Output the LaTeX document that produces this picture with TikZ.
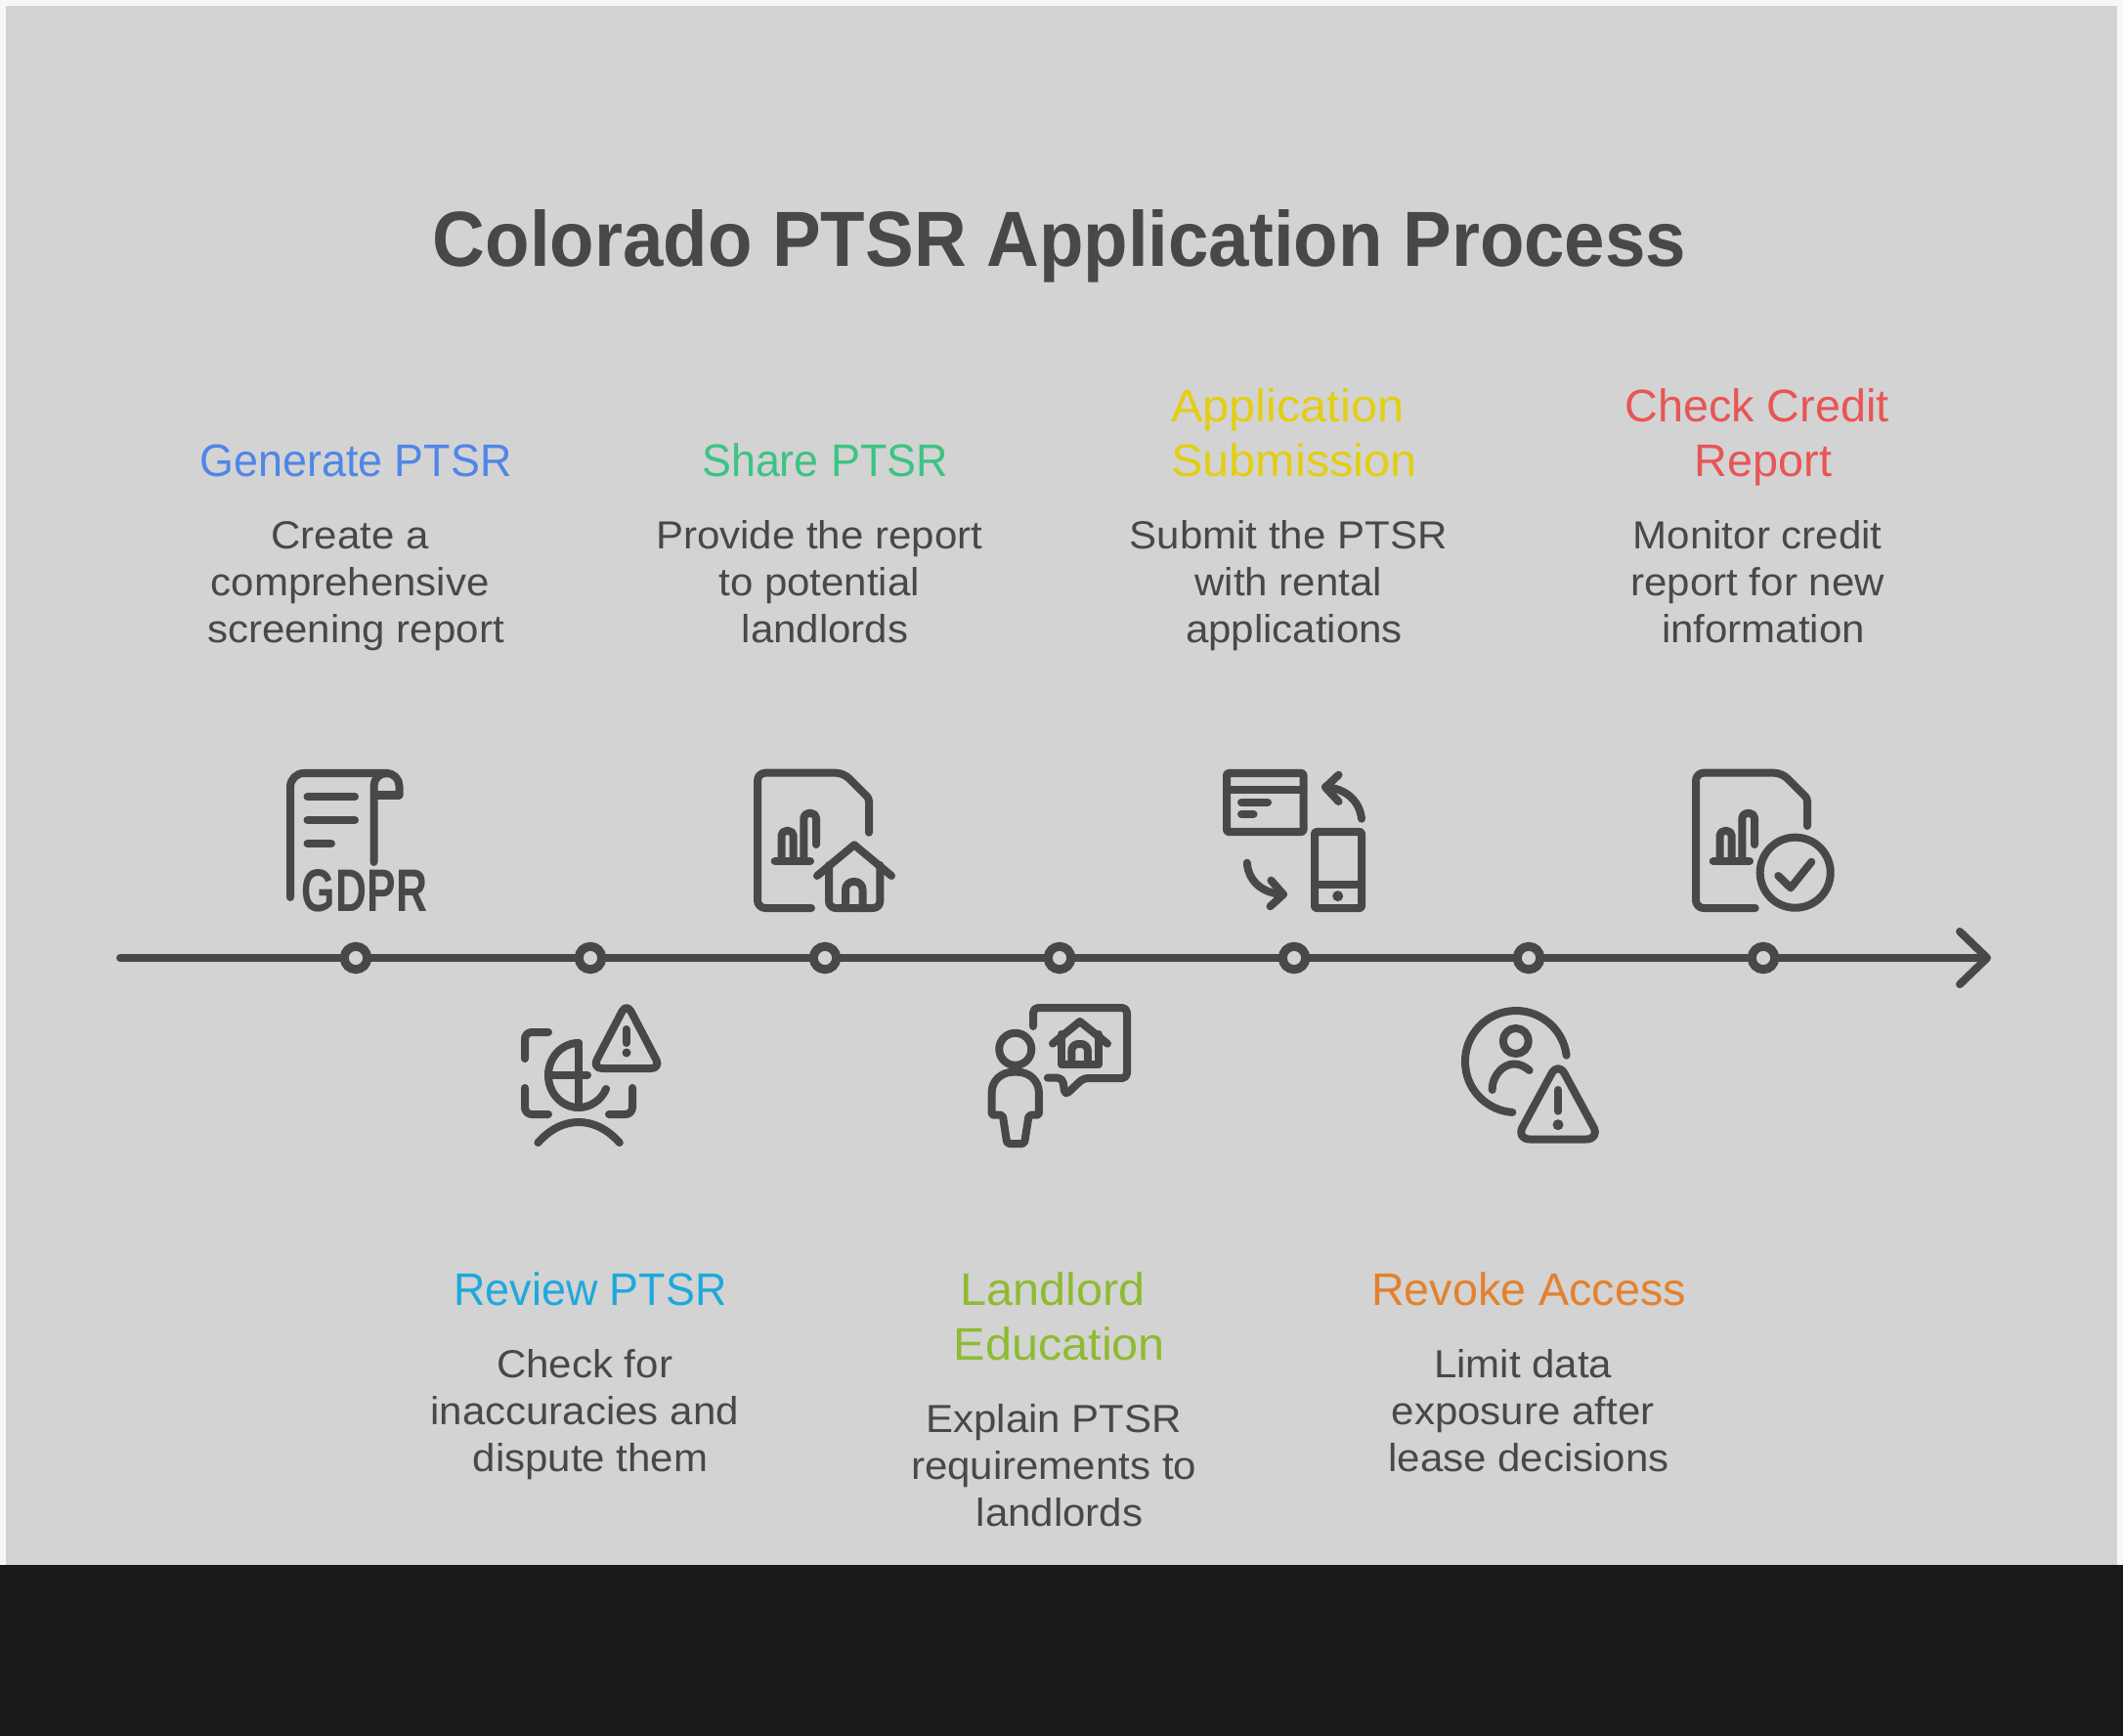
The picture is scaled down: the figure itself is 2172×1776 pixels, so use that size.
\documentclass[tikz,border=0pt]{standalone}
\usepackage{fontspec}
\setmainfont{Liberation Sans}
\newfontfamily\gdprfont[FakeStretch=0.72]{Liberation Sans}
\newfontfamily\titlefont[FakeStretch=0.93]{Liberation Sans}
\newfontfamily\headfont[FakeStretch=0.96]{Liberation Sans}
\newfontfamily\headwide[FakeStretch=1.04]{Liberation Sans}
\newfontfamily\headmid[FakeStretch=1.0]{Liberation Sans}
\newfontfamily\bodyfont[FakeStretch=1.05]{Liberation Sans}
\usetikzlibrary{arrows.meta}
\definecolor{bgpanel}{HTML}{D3D3D3}
\definecolor{bgpage}{HTML}{F6F8F7}
\definecolor{bgblack}{HTML}{1A1A1A}
\definecolor{ink}{HTML}{484848}
\definecolor{cblue}{HTML}{4F86E8}
\definecolor{ccyan}{HTML}{1EA9DC}
\definecolor{cgreen}{HTML}{3BC483}
\definecolor{clime}{HTML}{8FBA33}
\definecolor{cyellow}{HTML}{E3CE12}
\definecolor{corange}{HTML}{E3812E}
\definecolor{cred}{HTML}{E85555}
\newcommand{\tsp}{~\mbox{}}
\tikzset{
  x=0.01cm,y=-0.01cm,
  txt/.style={inner sep=0,outer sep=0,align=center},
  ttl/.style={inner sep=0,outer sep=0,anchor=base,text=ink,font=\fontsize{22.76}{27}\selectfont\titlefont\bfseries},
  hdtop/.style={txt,anchor=south,text=#1,font=\fontsize{13.28}{15.93}\selectfont\headfont},
  hdbot/.style={txt,anchor=north,text=#1,font=\fontsize{13.28}{15.93}\selectfont\headfont},
  wide/.style={font=\fontsize{13.28}{15.93}\selectfont\headwide},
  mid/.style={font=\fontsize{13.28}{15.93}\selectfont\headmid},
  bd/.style={txt,anchor=north,text=ink,font=\fontsize{11.38}{13.66}\selectfont\bodyfont},
  marker/.style={circle,draw=ink,fill=bgpanel,line width=0.09cm,minimum size=0.235cm,inner sep=0,outer sep=0},
  axis/.style={draw=ink,line width=0.08cm,line cap=round},
  ico/.style={draw=ink,line width=0.08cm,line cap=round,line join=round},
  dotf/.style={fill=ink,draw=none},
}
\begin{document}
\begin{tikzpicture}
\useasboundingbox (0,0) rectangle (2172,1776);
\fill[bgpage] (0,0) rectangle (2172,1601);
\fill[bgpanel] (6,6) rectangle (2166,1601);
\fill[bgblack] (0,1601) rectangle (2172,1776);

\node[ttl] (title) at (1084,272.3) {Colorado PTSR Application Process};

% timeline
\coordinate (tstart) at (123,980);
\coordinate (tend) at (2037,980);
\draw[axis,-{Straight Barb[length=0.28cm,width=0.54cm,round]}] (tstart) -- (tend);
\node[marker] (m1) at (364,980) {};
\node[marker] (m2) at (604,980) {};
\node[marker] (m3) at (844,980) {};
\node[marker] (m4) at (1084,980) {};
\node[marker] (m5) at (1324,980) {};
\node[marker] (m6) at (1564,980) {};
\node[marker] (m7) at (1804,980) {};

% upper labels
\node[hdtop=cblue] (h1) at (364,504.1) {Generate PTSR\strut};
\node[bd] (b1) at (364,527.4) {\strut Create a\tsp\\comprehensive\tsp\\screening report};
\node[hdtop=cgreen] (h3) at (844,504.1) {Share PTSR\strut};
\node[bd] (b3) at (844,527.4) {\strut Provide the report\tsp\\to potential\tsp\\landlords};
\node[hdtop=cyellow,wide] (h5) at (1324,504.1) {Application\tsp\\Submission\strut};
\node[bd] (b5) at (1324,527.4) {\strut Submit the PTSR\tsp\\with rental\tsp\\applications};
\node[hdtop=cred,mid] (h7) at (1804,504.1) {Check Credit\tsp\\Report\strut};
\node[bd] (b7) at (1804,527.4) {\strut Monitor credit\tsp\\report for new\tsp\\information};

% lower labels
\node[hdbot=ccyan] (h2) at (604,1296.5) {\strut Review PTSR};
\node[bd] (b2) at (604,1375.4) {\strut Check for\tsp\\inaccuracies and\tsp\\dispute them};
\node[hdbot=clime,wide] (h4) at (1084,1296.5) {\strut Landlord\tsp\\Education};
\node[bd] (b4) at (1084,1431.7) {\strut Explain PTSR\tsp\\requirements to\tsp\\landlords};
\node[hdbot=corange,mid] (h6) at (1564,1296.5) {\strut Revoke Access};
\node[bd] (b6) at (1564,1375.4) {\strut Limit data\tsp\\exposure after\tsp\\lease decisions};

% icon 1: scroll with GDPR
\draw[ico,rounded corners=0.14cm] (297,918) -- (297,791) -- (397,791);
\draw[ico,rounded corners=0.13cm] (382.5,882) -- (382.5,791) -- (408.5,791) -- (408.5,813.5);
\draw[ico] (408.5,813.5) -- (383,813.5);
\draw[ico] (314.5,815) -- (363,815);
\draw[ico] (314.5,839) -- (363,839);
\draw[ico] (314.5,863) -- (339,863);
\node[inner sep=0,anchor=base,text=ink,font=\fontsize{17.5}{20}\selectfont\gdprfont\bfseries] (gdpr) at (373,932.7) {GDPR};

% icon 3: file with house
\draw[ico,rounded corners=0.08cm] (830,929) -- (775,929) -- (775,790.7) -- (863,790.7) [rounded corners=0.03cm] -- (889,816.7) -- (889,851.7);
\draw[ico] (792.7,881) -- (829,881);
\draw[ico,rounded corners=0.05cm] (799.5,881) -- (799.5,850) -- (811.7,850) -- (811.7,881);
\draw[ico,rounded corners=0.05cm] (822.3,881) -- (822.3,832) -- (835,832) -- (835,864);
\draw[ico] (836,896) -- (874,864.3) -- (912,896);
\draw[ico,rounded corners=0.07cm] (848,885) -- (848,929) -- (900.3,929) -- (900.3,885);
\draw[ico,rounded corners=0.08cm] (865,929) -- (865,902) -- (882.5,902) -- (882.5,929);

% icon 2: face scan with warning
\draw[ico,rounded corners=0.07cm] (537,1083) -- (537,1056) -- (561,1056);
\draw[ico,rounded corners=0.07cm] (537,1113) -- (537,1140) -- (561,1140);
\draw[ico,rounded corners=0.07cm] (647,1113) -- (647,1140) -- (623,1140);
\draw[ico] (592,1067) arc[start angle=90,end angle=335,x radius=0.31cm,y radius=0.33cm];
\draw[ico] (592,1067) -- (592,1133);
\draw[ico] (561,1100) -- (601,1100);
\draw[ico,rounded corners=0.1cm] (641,1026) -- (606,1093) -- (676,1093) -- cycle;
\draw[ico] (640.5,1053) -- (640.5,1067);
\fill[dotf] (641,1077) circle[radius=0.045cm];
\draw[ico] (550.4,1169) .. controls (575,1141) and (609,1141) .. (633.8,1169);

% icon 5: window, phone, arrows
\draw[ico,rounded corners=0.02cm] (1255,791) rectangle (1333.5,851);
\draw[ico] (1255,808.3) -- (1333.5,808.3);
\draw[ico] (1270,820.7) -- (1297,820.7);
\draw[ico] (1270,832.7) -- (1282.5,832.7);
\draw[ico,rounded corners=0.02cm] (1345,851) rectangle (1393,929);
\draw[ico] (1345,905) -- (1393,905);
\fill[dotf] (1368.7,916.7) circle[radius=0.055cm];
\draw[ico] (1393,837.7) .. controls (1391,820) and (1378,807) .. (1356,805);
\draw[ico] (1369.5,792.7) -- (1356,805.5) -- (1369.5,820);
\draw[ico] (1275.8,882.7) .. controls (1277,900) and (1290,914) .. (1312.9,915);
\draw[ico] (1300.4,900.7) -- (1313,915) -- (1299.5,927.3);

% icon 4: person with speech bubble
\draw[ico] (1038.75,1073.3) circle[radius=0.165cm];
\draw[ico,rounded corners=0.02cm] (1014.6,1140.7) -- (1014.6,1120) .. controls (1014.6,1105) and (1025,1096.7) .. (1038.75,1096.7) .. controls (1052.5,1096.7) and (1062.9,1105) .. (1062.9,1120) -- (1062.9,1140.7) -- (1052.6,1140.7) -- (1048,1170) -- (1030.3,1170) -- (1025.8,1140.7) -- cycle;
\draw[ico,rounded corners=0.05cm] (1057,1050) -- (1057,1031) -- (1153,1031) -- (1153,1103) -- (1108.4,1103) -- (1089.6,1120.7) -- (1087,1102.7) -- (1071.8,1102.7);
\draw[ico] (1077,1067.7) -- (1104.8,1045) -- (1133,1067.7);
\draw[ico] (1086,1058) -- (1086,1089.3) -- (1124,1089.3) -- (1124,1058);
\draw[ico,rounded corners=0.07cm] (1096.3,1089) -- (1096.3,1068) -- (1112.9,1068) -- (1112.9,1089);

% icon 6: user with warning
\draw[ico] (1602.6,1079.7) arc[start angle=7,end angle=266,radius=0.52cm];
\draw[ico] (1550.8,1065) circle[radius=0.13cm];
\draw[ico] (1526.7,1115) .. controls (1526,1098) and (1545,1078) .. (1564.6,1095);
\draw[ico,rounded corners=0.14cm] (1594,1086) -- (1551,1165.5) -- (1637,1165.5) -- cycle;
\draw[ico] (1594,1115) -- (1594,1136.7);
\fill[dotf] (1594,1150.7) circle[radius=0.055cm];

% icon 7: file with check
\draw[ico,rounded corners=0.08cm] (1795.7,929) -- (1735,929) -- (1735,790.7) -- (1823,790.7) [rounded corners=0.03cm] -- (1849,816.7) -- (1849,845);
\draw[ico] (1752.7,881) -- (1790,881);
\draw[ico,rounded corners=0.05cm] (1759.5,881) -- (1759.5,850) -- (1771.7,850) -- (1771.7,881);
\draw[ico,rounded corners=0.05cm] (1782.3,881) -- (1782.3,832) -- (1795,832) -- (1795,864);
\draw[ico] (1836.7,892.7) circle[radius=0.36cm];
\draw[ico] (1819.3,896) -- (1832,908.3) -- (1853.3,881.7);
\end{tikzpicture}
\end{document}
